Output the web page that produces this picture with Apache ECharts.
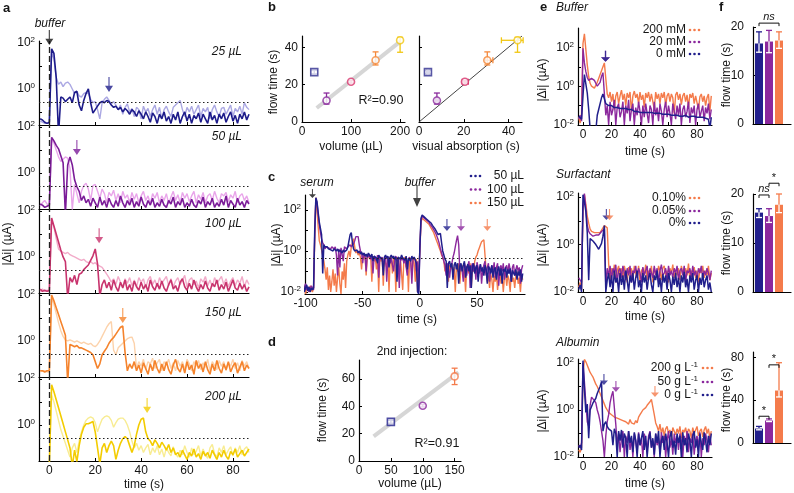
<!DOCTYPE html>
<html>
<head>
<meta charset="utf-8">
<script src="https://cdn.jsdelivr.net/npm/echarts@6.0.0/dist/echarts.min.js"></script>
<style>
html,body{margin:0;padding:0;background:#fff;}
#chart{width:794px;height:493px;}
</style>
</head>
<body>
<div id="chart"></div>
<script>
// ================= DATA =================
// Current traces: values are log10(|Δi| / µA), one sample per second.
// ---- Panel a (time starts at -4 s) ----
const aT0 = -4;
const aVolumes = ['25 µL', '50 µL', '100 µL', '150 µL', '200 µL'];
const a25Dark = [-1.3,-1.35,-1.45,-1.5,-1.45,1.75,1.55,0.5,-2.0,-0.35,
 -0.4,-0.55,-0.45,-0.35,-0.6,-0.15,-0.1,-0.7,-0.95,-0.5,
 -0.2,0.0,-0.6,-1.05,-0.9,-0.75,-0.6,-0.55,-0.6,-0.5,
 -0.55,-0.7,-0.8,-0.75,-0.9,-0.8,-1.0,-0.85,-0.95,-1.1,
 -0.9,-1.0,-1.2,-0.95,-1.1,-1.3,-1.0,-1.2,-1.45,-1.05,
 -1.2,-1.5,-1.1,-1.3,-1.0,-1.4,-1.2,-1.5,-1.1,-1.35,
 -1.0,-1.5,-1.2,-1.0,-1.4,-1.1,-1.5,-1.15,-1.3,-1.05,
 -1.45,-1.1,-1.3,-1.5,-1.0,-1.35,-1.15,-1.5,-1.1,-1.3,
 -1.05,-1.45,-1.2,-1.0,-1.4,-1.15,-1.5,-1.1,-1.3,-1.0,
 -1.35,-1.1];
const a25Light = [-1.4,-1.45,-1.5,-1.5,-1.5,1.6,1.3,0.5,0.2,0.3,
 0.1,0.25,0.3,0.2,0.0,-0.2,-0.1,-0.3,-0.35,-0.2,
 -0.15,-0.2,-0.45,-0.6,-0.55,-0.9,-1.3,-0.6,-0.45,-0.35,
 -0.5,-0.65,-0.55,-0.7,-0.9,-0.7,-1.1,-0.8,-0.65,-1.0,
 -0.85,-1.2,-0.8,-0.9,-1.3,-0.75,-1.0,-0.85,-1.2,-0.9,
 -0.7,-1.1,-0.8,-1.3,-0.9,-0.75,-1.0,-1.2,-0.8,-0.7,
 -0.6,-0.5,-0.9,-1.2,-0.8,-1.0,-0.75,-1.1,-0.9,-0.7,
 -1.2,-0.85,-1.0,-0.8,-1.3,-0.9,-0.7,-1.0,-1.2,-0.85,
 -0.8,-1.1,-0.9,-0.7,-1.2,-0.85,-1.0,-0.75,-1.1,-0.6,
 -0.8,-0.9];
const a50Dark = [-1.35,-1.4,-1.5,-1.45,-1.4,1.55,1.4,1.2,1.05,0.75,
 0.45,-1.8,0.35,0.7,0.35,-0.3,-0.6,-0.8,-1.2,-1.0,
 -1.3,-1.15,-1.45,-1.1,-1.3,-1.5,-1.05,-1.4,-1.2,-1.5,
 -1.1,-1.35,-1.5,-1.2,-1.45,-1.0,-1.3,-1.5,-1.2,-1.4,
 -1.1,-1.5,-1.25,-1.45,-1.05,-1.35,-1.5,-1.2,-1.4,-1.1,
 -1.5,-1.3,-1.45,-1.15,-1.4,-1.5,-1.2,-1.35,-1.05,-1.5,
 -1.25,-1.4,-1.1,-1.5,-1.3,-1.45,-1.15,-1.4,-1.5,-1.2,
 -1.35,-1.05,-1.5,-1.25,-1.4,-1.1,-1.5,-1.3,-1.45,-1.15,
 -1.4,-1.0,-1.5,-1.2,-1.35,-1.5,-1.1,-1.4,-1.25,-1.5,
 -1.2,-1.35];
const a50Light = [-1.45,-1.3,-1.2,-1.35,-1.5,1.45,1.3,1.0,0.7,0.5,
 0.6,0.7,0.65,0.2,-1.6,-0.5,-0.9,-1.3,-0.8,-0.55,
 -0.45,-0.7,-1.2,-0.55,-0.5,-0.8,-1.1,-0.7,-0.9,-1.3,
 -0.85,-1.0,-0.75,-1.2,-0.9,-1.3,-0.8,-1.1,-0.95,-1.3,
 -0.85,-1.15,-0.9,-1.3,-1.0,-0.8,-1.2,-1.0,-1.35,-0.9,
 -1.1,-0.85,-1.3,-1.0,-1.2,-0.9,-1.35,-1.05,-0.8,-1.2,
 -0.95,-1.3,-0.85,-1.1,-0.9,-1.25,-1.0,-0.8,-1.3,-0.95,
 -1.15,-0.85,-1.3,-1.0,-0.9,-1.2,-0.8,-1.1,-1.3,-0.9,
 -1.0,-0.85,-1.25,-0.95,-1.1,-0.8,-1.3,-1.0,-0.9,-1.2,
 -1.0,-1.3];
const a100Dark = [-1.4,-1.5,-1.45,-1.5,-1.45,1.7,1.35,1.0,0.65,0.3,
 0.0,-0.2,-1.8,-0.9,-1.1,-0.8,-1.2,-0.75,-0.7,-0.55,
 -0.45,-0.35,-0.15,0.05,0.35,-0.3,-1.7,-1.2,-1.0,-1.35,
 -1.1,-1.45,-1.0,-1.3,-1.5,-1.1,-1.35,-1.0,-1.45,-1.2,
 -1.5,-1.05,-1.3,-1.45,-1.1,-1.4,-1.2,-1.5,-1.0,-1.3,
 -1.45,-1.15,-1.4,-1.05,-1.35,-1.5,-1.2,-1.0,-1.4,-1.25,
 -1.5,-1.1,-0.95,-1.3,-1.45,-1.15,-1.4,-1.0,-1.3,-1.5,
 -1.2,-1.4,-1.05,-1.35,-1.5,-1.15,-1.3,-1.0,-1.45,-1.2,
 -1.4,-1.1,-1.5,-1.25,-1.0,-1.35,-1.45,-1.15,-1.4,-1.2,
 -1.5,-1.3];
const a100Light = [-1.5,-1.4,-1.5,-1.45,-1.5,1.6,1.3,0.8,0.35,0.25,
 0.2,0.15,0.2,0.1,0.05,0.0,-0.05,-0.1,-0.15,-0.1,
 -0.2,-0.25,-0.2,-0.3,-0.25,-0.35,-0.4,-0.45,-0.6,-0.75,
 -0.9,-1.1,-0.95,-1.2,-0.85,-1.1,-1.3,-0.95,-1.15,-0.9,
 -1.25,-1.0,-1.3,-0.9,-1.1,-0.95,-1.35,-1.0,-0.85,-1.2,
 -1.0,-1.3,-0.9,-1.15,-1.0,-0.85,-1.25,-0.95,-1.3,-1.05,
 -0.9,-1.2,-1.0,-0.8,-1.3,-1.0,-0.9,-1.2,-1.05,-1.35,
 -0.95,-1.1,-0.85,-1.25,-1.0,-1.3,-0.9,-1.15,-1.0,-0.85,
 -1.2,-0.95,-1.3,-1.05,-0.9,-1.25,-1.0,-1.15,-0.85,-1.3,
 -1.0,-1.2];
const a150Dark = [-1.3,-1.3,-1.35,-1.3,-1.3,2.0,1.75,1.45,1.15,0.85,
 0.55,0.25,-1.8,-0.15,-0.2,-0.25,-0.2,-0.3,-0.3,-0.35,
 -0.4,-0.45,-0.5,-0.6,-0.9,-1.2,-1.0,-0.6,-0.45,-0.3,
 -0.1,0.05,0.15,0.3,0.45,0.6,0.65,-0.5,-1.3,-1.0,
 -1.2,-0.9,-1.3,-1.05,-1.4,-0.95,-1.2,-1.45,-1.0,-1.3,
 -0.85,-1.2,-1.4,-1.0,-1.3,-0.9,-1.25,-1.45,-1.05,-0.8,
 -1.2,-1.35,-1.0,-1.4,-0.9,-1.25,-1.05,-1.45,-0.85,-1.2,
 -1.0,-1.35,-0.9,-1.25,-1.45,-1.0,-1.3,-0.85,-1.2,-1.4,
 -1.0,-1.25,-0.9,-1.35,-1.1,-0.95,-1.4,-1.15,-0.9,-1.3,
 -1.05,-1.2];
const a150Light = [-1.35,-1.3,-1.3,-1.35,-1.35,1.9,1.6,1.2,0.8,0.45,
 0.2,0.05,0.0,0.05,0.0,-0.05,0.0,-0.05,-0.1,-0.05,
 -0.1,-0.15,-0.1,-0.2,-0.25,-0.15,0.0,0.2,0.4,0.6,
 0.75,0.85,-0.4,-0.6,-0.3,-0.2,-0.1,0.0,0.1,0.15,
 0.17,-0.1,-1.2,-0.9,-1.1,-0.8,-1.25,-0.9,-1.0,-0.75,
 -1.2,-0.95,-0.8,-1.3,-0.9,-1.05,-0.8,-1.2,-0.95,-1.3,
 -0.85,-1.1,-0.9,-1.25,-0.8,-1.0,-1.3,-0.9,-1.1,-0.85,
 -1.25,-0.95,-1.15,-0.8,-1.3,-0.9,-1.05,-1.25,-0.85,-1.1,
 -0.9,-1.3,-0.95,-1.1,-0.8,-1.2,-0.95,-1.3,-0.85,-1.1,
 -0.9,-1.2];
const a200Dark = [-1.7,-1.7,-1.7,-1.7,-1.7,1.75,1.45,1.1,0.75,0.4,
 0.05,-0.3,-0.65,-1.0,-1.8,-1.1,-1.6,-0.9,-0.4,-0.1,
 0.05,0.05,0.1,0.15,-0.3,-1.0,-1.7,-1.0,-0.8,-1.2,
 -0.9,-0.7,-0.9,-1.5,-1.1,-0.8,-0.6,-0.5,-0.6,-0.9,
 -1.2,-0.9,-0.4,0.0,0.25,0.3,-0.3,-0.6,-0.7,-0.9,
 -0.65,-0.8,-1.0,-0.75,-0.9,-1.1,-0.85,-1.2,-1.0,-1.3,
 -1.2,-1.4,-1.1,-1.3,-1.5,-1.2,-1.35,-1.05,-1.4,-1.25,
 -1.5,-1.15,-1.35,-1.2,-1.45,-1.1,-1.3,-1.5,-1.2,-1.4,
 -1.1,-1.35,-1.5,-1.15,-1.3,-1.05,-1.4,-1.25,-1.1,-1.35,
 -1.2,-1.05];
const a200Light = [-1.7,-1.7,-1.7,-1.7,-1.7,1.3,1.0,0.6,0.2,-0.2,
 -0.5,-0.8,-1.1,-1.4,-1.0,-0.8,-1.2,-0.7,-0.3,0.0,
 0.2,0.3,0.35,0.3,0.1,-0.3,0.0,0.25,0.35,0.4,
 0.35,0.2,-0.1,0.1,0.25,0.3,0.3,0.2,0.0,-0.3,
 -0.7,-1.0,-0.8,-1.1,-0.9,-1.2,-1.0,-0.85,-1.3,-1.0,
 -1.2,-0.9,-1.3,-1.05,-1.4,-1.0,-1.2,-1.35,-0.95,-1.25,
 -1.4,-1.1,-1.3,-0.9,-1.2,-1.4,-1.0,-1.3,-1.15,-0.9,
 -1.35,-1.05,-1.3,-1.45,-1.0,-0.85,-1.25,-1.4,-1.0,-1.2,
 -0.9,-1.3,-1.1,-0.95,-1.35,-1.0,-1.2,-0.9,-1.3,-1.05,
 -0.95,-1.2];
const aArrowT = [26, 12, 21.7, 32, 42.6];
const aArrowTip = [-0.13, 0.78, 0.6, 0.78, 0.52];
const aThreshold = -0.6;

// ---- Panel b ----
const bVolume = [25, 50, 100, 150, 200];
const bFlow = [26.7, 11.5, 21.5, 33, 43.7];
const bFlowLo = [25.8, 9.6, 20.8, 30.5, 37.3];
const bFlowHi = [27.6, 15.5, 22.2, 37.5, 45.3];
const bVisual = [4, 8, 20.5, 30.5, 44];
const bVisualLo = [3.4, 7.4, 19.3, 29.6, 36.8];
const bVisualHi = [4.6, 8.6, 22, 33, 46.5];
const bFitX = [30, 200], bFitY = [7.5, 43];
const bDiagX = [0, 46], bDiagY = [0, 46];

// ---- Panel c (time starts at -104 s) ----
const cT0 = -104;
const c50 = [-1.7,-1.9,-1.6,-2.0,-1.8,-1.65,-1.95,-1.75,-2.0,-1.8,
 -1.9,-1.8,1.0,2.6,2.4,1.9,1.4,1.1,0.8,-1.1,
 0.3,0.2,0.15,0.2,0.1,0.15,0.05,0.1,0.0,0.1,
 0.05,0.0,0.1,-0.05,0.05,0.0,-0.1,0.05,-0.05,0.0,
 0.05,0.2,0.5,0.8,0.9,0.4,0.1,0.0,-0.05,0.05,
 -0.1,0.0,-0.15,-0.05,-0.2,-0.1,-0.25,-0.15,-0.3,-0.1,
 -0.2,-0.3,-0.15,-0.5,-0.25,-0.2,-0.35,-0.6,-0.2,-0.3,
 -0.25,-0.4,-1.2,-0.3,-0.2,-0.35,-0.25,-0.8,-0.3,-0.2,
 -0.35,-0.25,-0.4,-0.3,-1.5,-0.3,-0.25,-0.4,-0.2,-0.35,
 -0.3,-0.45,-0.25,-0.9,-0.35,-0.3,-0.5,-0.25,-0.4,-0.3,
 -0.35,-0.6,-2.0,-2.1,0.2,1.6,1.75,1.7,1.65,1.6,
 1.55,1.5,1.45,1.4,1.35,1.25,1.2,1.1,1.0,0.9,
 0.8,0.75,0.85,0.4,0.0,-0.2,-0.4,-0.5,-1.8,-0.6,
 -0.5,-0.8,-0.6,-1.4,-0.7,-0.55,-0.9,-0.6,-1.6,-0.75,
 -0.6,-1.0,-0.7,-0.5,-1.3,-0.8,-0.65,-1.0,-0.7,-1.8,
 -0.75,-0.6,-1.1,-0.8,-0.7,-1.5,-0.9,-0.65,-1.0,-0.8,
 -1.2,-0.7,-0.9,-1.6,-0.75,-0.85,-1.1,-0.7,-1.3,-0.9,
 -0.8,-1.4,-0.95,-0.75,-1.2,-0.85,-1.6,-0.9,-1.0,-0.8,
 -1.3,-0.9,-1.1,-0.85,-1.5,-0.95,-1.0,-1.2,-0.9,-1.4,
 -1.0,-1.2,-0.9,-1.5,-1.1];
const c100 = [-1.9,-1.7,-2.0,-1.8,-1.6,-1.9,-1.75,-2.0,-1.85,-1.7,
 -1.8,-1.9,0.8,2.55,2.35,1.8,1.3,0.9,0.6,0.4,
 0.3,0.1,0.2,0.25,0.15,0.2,0.1,0.2,0.15,0.1,
 0.2,-0.2,-1.2,0.1,-0.8,0.15,0.1,-0.5,0.2,0.15,
 0.1,0.2,0.15,0.3,0.2,0.25,0.35,0.5,0.7,0.75,
 0.7,0.3,0.0,-0.1,-0.6,-0.1,-0.2,-1.0,-0.15,-0.3,
 -0.2,-0.4,-0.3,-1.1,-0.25,-0.35,-0.5,-0.2,-1.3,-0.3,
 -0.4,-0.3,-0.8,-0.35,-0.25,-1.5,-0.4,-0.3,-0.6,-0.35,
 -0.3,-1.0,-0.4,-0.25,-0.5,-0.35,-1.8,-0.3,-0.45,-0.3,
 -0.6,-0.35,-0.3,-1.2,-0.4,-0.3,-0.5,-1.6,-0.35,-0.3,
 -0.4,-1.0,-0.5,-2.0,0.1,1.5,1.7,1.65,1.6,1.55,
 1.5,1.45,1.4,1.3,1.25,1.15,1.05,0.95,0.85,0.7,
 0.55,0.35,0.1,-0.1,-0.3,-0.5,-0.7,-1.2,-0.6,-0.9,
 -1.3,-0.8,-0.6,-0.3,-0.1,0.2,0.5,0.75,0.3,-1.0,
 -0.7,-0.9,-1.5,-0.6,-0.8,-1.2,-0.7,-0.5,-1.8,-0.8,
 -0.6,-1.0,-0.7,-1.4,-0.55,-0.8,-1.1,-0.65,-1.6,-0.9,
 -0.7,-0.5,-1.2,-0.8,-0.6,-1.5,-0.9,-0.7,-1.0,-0.55,
 -1.3,-0.8,-0.6,-1.7,-0.9,-0.7,-1.0,-0.6,-1.4,-0.8,
 -0.7,-1.1,-0.6,-0.9,-1.5,-0.8,-0.65,-1.2,-0.9,-0.7,
 -1.0,-0.8,-1.6,-0.9,-0.7];
const c150 = [-1.8,-2.0,-1.9,-1.7,-2.1,-1.8,-1.9,-2.0,-1.7,-1.9,
 -2.0,-1.8,0.5,2.6,2.0,1.2,0.5,0.3,0.05,-0.2,
 -0.5,-0.9,-1.4,-0.8,-1.9,-1.2,-2.0,-1.5,-0.9,-1.7,
 -1.1,-2.0,-1.3,-0.8,-1.6,-2.1,-1.0,-1.4,-0.6,-1.8,
 -0.5,-0.2,0.0,-0.3,0.2,0.4,0.6,0.2,-0.1,0.0,
 -0.2,-0.1,-0.3,-0.9,-0.2,-0.4,-0.15,-1.2,-0.3,-0.2,
 -0.4,-0.3,-1.5,-0.25,-0.5,-0.3,-0.9,-0.35,-2.0,-0.3,
 -0.5,-0.3,-1.7,-0.4,-0.35,-0.8,-0.3,-2.0,-0.4,-0.3,
 -1.1,-0.35,-0.5,-2.0,-0.3,-0.4,-1.4,-0.35,-0.3,-1.9,
 -0.4,-0.3,-0.8,-0.45,-2.0,-0.35,-0.5,-1.2,-0.3,-0.6,
 -1.5,-0.4,-2.0,-1.0,0.0,1.4,1.6,1.55,1.5,1.45,
 1.4,1.35,1.3,1.2,1.1,1.0,0.9,0.75,0.6,0.45,
 0.3,0.15,0.0,-0.2,-0.3,-0.5,-1.0,-0.6,-0.8,-1.5,
 -0.7,-0.9,-0.6,-1.2,-0.8,-2.0,-0.7,-1.0,-0.6,-1.6,
 -0.8,-0.7,-1.3,-0.9,-2.0,-0.75,-0.9,-1.1,-0.6,-1.8,
 -0.8,-1.0,-0.5,-0.3,-0.2,0.0,0.15,0.3,0.45,0.5,
 0.55,-0.2,-1.0,-1.5,-1.2,-1.8,-1.1,-1.4,-2.0,-1.2,
 -1.5,-1.1,-1.9,-1.3,-1.0,-1.6,-1.2,-2.0,-1.3,-1.1,
 -1.7,-1.2,-1.4,-2.0,-1.1,-1.5,-1.3,-1.8,-1.2,-1.0,
 -1.6,-1.3,-2.0,-1.2,-1.4];
const cLegend = ['50 µL', '100 µL', '150 µL'];
const cArrowT = [23.7, 36, 59];
const cArrowTip = [0.97, 0.97, 0.97];
const cSerumArrow = [-94, 2.58], cBufferArrow = [-2.5, 2.14];
const cThreshold = -0.35;

// ---- Panel d ----
const dVolume = [50, 100, 150];
const dFlow = [28.7, 40.5, 62];
const dFlowLo = [27.6, 39.6, 56];
const dFlowHi = [29.8, 41.4, 68];
const dFitX = [23, 156], dFitY = [18, 65];

// ---- Panel e (time starts at -3 s) ----
const eT0 = -3;
const eBuffer200 = [-1.6,-1.9,-1.4,2.2,2.7,1.9,1.1,0.5,0.15,0.0,
 -0.05,-0.1,0.0,0.2,0.4,0.6,0.8,1.0,1.2,0.4,
 -0.4,-0.6,-0.3,-0.8,-0.4,-1.2,-0.5,-0.3,-0.9,-0.5,
 -0.2,-0.7,-0.4,-1.0,-0.35,-0.6,-0.3,-1.3,-0.5,-0.25,
 -0.6,-0.4,-0.9,-0.3,-0.7,-0.45,-1.1,-0.35,-0.6,-0.3,
 -0.8,-0.4,-0.5,-1.2,-0.3,-0.65,-0.4,-0.9,-0.35,-0.6,
 -0.3,-1.0,-0.5,-0.35,-0.8,-0.4,-0.6,-1.4,-0.45,-0.3,
 -0.7,-0.4,-0.95,-0.5,-0.35,-0.8,-0.45,-1.1,-0.4,-0.6,
 -0.35,-0.9,-0.5,-0.4,-1.2,-0.55,-0.4,-0.8,-0.5,-1.0,
 -0.6,-0.4,-1.3,-0.5];
const eBuffer20 = [-1.7,-1.5,-1.8,1.95,1.2,0.75,0.45,0.3,0.35,0.4,
 0.4,0.3,0.15,0.0,-0.05,0.2,0.5,0.7,0.8,-1.5,
 -1.0,-2.0,-0.8,-1.5,-1.2,-0.7,-2.0,-1.1,-0.9,-1.6,
 -1.3,-0.8,-2.0,-1.0,-1.4,-0.7,-1.8,-1.2,-0.9,-2.0,
 -1.1,-1.5,-0.8,-1.3,-2.0,-1.0,-1.6,-0.9,-1.4,-1.9,
 -1.0,-1.2,-2.0,-0.8,-1.5,-1.1,-1.8,-0.9,-1.3,-2.0,
 -1.2,-0.8,-1.6,-1.0,-1.4,-2.0,-0.9,-1.3,-1.7,-1.0,
 -1.5,-0.9,-2.0,-1.2,-1.0,-1.6,-1.3,-0.8,-1.9,-1.1,
 -1.4,-1.0,-2.0,-1.2,-0.9,-1.6,-1.3,-1.0,-1.8,-1.1,
 -1.4,-0.9,-1.7,-1.2];
const eBuffer0 = [-1.55,-1.6,-1.7,-0.5,0.6,0.5,-0.35,-1.2,-2.2,-2.3,
 -2.3,-2.2,-2.3,-1.5,-1.2,-0.9,-0.6,-0.4,-0.3,-0.9,
 -1.0,-1.0,-1.05,-1.0,-1.05,-1.1,-1.05,-1.1,-1.1,-1.15,
 -1.1,-1.15,-1.2,-1.15,-1.2,-1.2,-1.25,-1.2,-1.25,-1.3,
 -1.25,-1.3,-1.3,-1.35,-1.3,-1.35,-1.3,-1.35,-1.4,-1.35,
 -1.4,-1.35,-1.4,-1.4,-1.45,-1.4,-1.45,-1.4,-1.45,-1.45,
 -1.5,-1.45,-1.5,-1.45,-1.5,-1.5,-1.45,-1.5,-1.55,-1.5,
 -1.5,-1.55,-1.5,-1.55,-1.55,-1.5,-1.55,-1.6,-1.55,-1.55,
 -1.6,-1.55,-1.6,-1.6,-1.55,-1.6,-1.65,-1.6,-1.6,-1.65,
 -1.6,-1.7,-2.2,-1.6];
const eSurf010 = [-1.8,-1.6,-1.9,1.6,2.1,1.7,1.2,0.9,0.65,0.55,
 0.5,0.5,0.45,0.5,0.45,0.5,0.55,0.7,0.8,0.75,
 0.7,-0.8,-1.5,-1.0,-1.3,-0.85,-1.6,-1.1,-0.9,-1.4,
 -1.0,-1.5,-0.9,-1.2,-1.6,-0.95,-1.3,-1.0,-1.5,-0.9,
 -1.2,-1.4,-0.9,-1.6,-1.1,-1.0,-1.3,-0.85,-1.5,-1.1,
 -1.3,-0.9,-1.6,-1.0,-1.2,-1.4,-0.9,-1.1,-1.5,-1.0,
 -0.9,-1.3,-1.1,-1.6,-1.0,-1.2,-0.85,-1.4,-1.1,-1.3,
 -1.0,-1.5,-0.9,-1.2,-1.4,-1.0,-1.3,-0.8,-1.5,-1.1,
 -1.2,-0.95,-1.4,-1.1,-1.6,-1.0,-1.2,-0.9,-1.4,-1.1,
 -1.3,-0.9,-1.5,-1.2];
const eSurf005 = [-1.4,-1.4,-1.6,1.5,2.15,1.5,0.8,0.55,0.45,0.4,
 0.35,0.35,0.4,0.35,0.4,0.45,0.55,0.6,0.65,-1.8,
 -1.0,-1.3,-0.9,-1.5,-1.0,-1.2,-0.85,-1.6,-1.1,-1.0,
 -1.4,-0.9,-1.2,-1.5,-1.0,-1.3,-0.9,-1.6,-1.1,-1.2,
 -0.9,-1.4,-1.0,-1.2,-1.6,-0.95,-1.3,-1.1,-0.9,-1.5,
 -1.0,-1.2,-1.4,-0.9,-1.3,-1.0,-1.6,-1.1,-0.85,-1.3,
 -1.2,-1.0,-1.5,-0.9,-1.3,-1.1,-1.4,-1.0,-1.2,-0.9,
 -1.5,-1.1,-1.0,-1.3,-0.9,-1.6,-1.1,-1.2,-1.0,-1.4,
 -0.9,-1.3,-1.1,-1.5,-1.0,-1.2,-0.9,-1.4,-1.1,-1.3,
 -1.0,-1.2,-1.5,-1.1];
const eSurf0 = [-1.9,-1.7,-2.0,2.1,1.8,1.4,0.5,-1.5,0.25,0.2,
 0.15,0.1,0.0,-0.1,-0.2,-0.25,0.05,0.35,0.8,-2.0,
 -1.5,-1.2,-1.8,-1.3,-2.0,-1.1,-1.6,-1.4,-2.0,-1.2,
 -1.7,-1.3,-1.9,-1.1,-1.5,-2.0,-1.3,-1.6,-1.2,-1.9,
 -1.4,-1.1,-1.8,-1.5,-2.0,-1.2,-1.6,-1.3,-1.9,-1.4,
 -1.2,-1.7,-2.0,-1.3,-1.5,-1.1,-1.8,-1.4,-2.0,-1.25,
 -1.6,-1.3,-1.9,-1.2,-1.5,-2.0,-1.35,-1.7,-1.2,-1.8,
 -1.4,-2.0,-1.3,-1.6,-1.15,-1.8,-1.45,-2.0,-1.3,-1.6,
 -1.2,-1.9,-1.5,-1.3,-2.0,-1.4,-1.7,-1.2,-1.8,-1.5,
 -1.3,-1.9,-1.6,-2.0];
const eAlb200 = [-1.7,-1.8,-1.6,1.5,2.15,2.05,1.9,1.75,1.6,1.5,
 1.4,1.25,1.1,1.0,0.85,0.7,0.55,0.4,0.25,0.1,
 0.0,-0.1,-0.15,-0.2,-0.25,-0.3,-0.25,-0.35,-0.3,-0.4,
 -0.35,-0.45,-0.4,-0.5,-0.45,-0.6,-0.4,-0.55,-0.5,-0.6,
 -0.45,-0.55,-0.3,-0.2,-0.1,0.0,0.05,0.1,0.2,0.25,
 0.35,0.45,0.5,-0.2,-0.55,-0.7,-0.9,-0.6,-1.0,-0.75,
 -1.1,-0.8,-0.7,-1.0,-0.85,-1.2,-0.75,-0.9,-1.05,-0.8,
 -1.0,-0.7,-1.2,-0.85,-0.95,-0.75,-1.1,-0.8,-0.9,-1.2,
 -0.75,-1.0,-0.85,-0.7,-1.1,-0.9,-0.8,-1.15,-0.85,-0.7,
 -1.0,-0.8,-1.2,-0.9];
const eAlb50 = [-1.5,-1.6,-1.4,2.0,1.2,0.3,-0.5,-0.7,0.2,0.55,
 0.5,0.4,0.3,0.0,-0.2,-0.5,-0.9,-1.3,-2.0,-1.1,
 -0.5,-0.2,0.3,0.6,0.8,0.85,-0.6,-1.5,-1.0,-1.8,
 -1.2,-0.9,-2.0,-1.1,-1.4,-0.9,-1.7,-1.2,-2.0,-1.0,
 -1.3,-1.8,-0.95,-1.5,-1.2,-2.0,-1.0,-1.4,-1.7,-1.1,
 -0.9,-1.6,-1.3,-2.0,-1.0,-1.5,-1.2,-1.8,-0.95,-1.4,
 -1.1,-2.0,-1.3,-0.9,-1.6,-1.2,-1.9,-1.0,-1.4,-1.1,
 -1.7,-1.0,-1.3,-2.0,-1.1,-1.5,-0.9,-1.8,-1.2,-1.4,
 -1.0,-1.9,-1.3,-1.1,-1.6,-0.95,-2.0,-1.2,-1.5,-1.0,
 -1.3,-1.8,-1.1,-1.5];
const eAlb0 = [-1.6,-1.5,-1.7,2.1,0.9,-0.1,0.25,-1.2,0.0,0.15,
 0.3,0.4,0.5,0.7,0.85,1.0,1.2,-0.9,-0.6,-0.5,
 -0.7,-0.8,-0.75,-0.9,-1.5,-0.8,-1.0,-2.0,-0.9,-1.3,
 -0.85,-1.6,-1.0,-1.2,-2.0,-0.9,-1.4,-1.1,-1.8,-0.95,
 -1.3,-2.0,-1.0,-1.5,-1.2,-0.9,-1.7,-1.1,-2.0,-1.3,
 -0.95,-1.6,-1.2,-1.9,-1.0,-1.4,-0.9,-2.0,-1.3,-1.1,
 -1.7,-1.0,-1.4,-2.0,-1.15,-0.9,-1.6,-1.3,-1.9,-1.0,
 -1.4,-1.1,-2.0,-0.95,-1.5,-1.2,-1.8,-1.0,-1.3,-2.0,
 -1.1,-0.9,-1.6,-1.25,-2.0,-1.0,-1.4,-1.7,-0.95,-1.3,
 -1.8,-1.1,-1.5,-1.0];
const eBufferLegend = ['200 mM', '20 mM', '0 mM'];
const eSurfLegend = ['0.10%', '0.05%', '0%'];
const eAlbLegend = ['200 g L', '50 g L', '0 g L'];
const eBufferArrows = [[15.8, 1.26], [15.8, 1.26]];
const eSurfArrows = [[16.4, 1.03], [18.6, 1.03]];
const eAlbArrows = [[14.7, 1.06], [23.1, 0.77], [50.5, 0.55]];

// ---- Panel f (bars: 0 / mid / high condition) ----
const fBuffer = [16.6, 17.0, 17.2], fBufferLo = [14.8, 14.7, 15.6], fBufferHi = [19.0, 19.3, 19.0];
const fSurf = [16.2, 15.5, 17.8], fSurfLo = [15.2, 14.2, 16.2], fSurfHi = [17.0, 17.0, 20.0];
const fAlb = [13.5, 21.0, 49.0], fAlbLo = [12.3, 20.0, 43.0], fAlbHi = [15.5, 22.5, 75.0];
const fBracketsBuffer = [[1, 3, 20.8]], fBracketsBufferText = ['ns'];
const fBracketsSurf = [[1, 2, 19.8], [2, 3, 22.2]], fBracketsSurfText = ['ns', '*'];
const fBracketsAlb = [[1, 2, 25], [2, 3, 73]], fBracketsAlbText = ['*', '*'];

// ================= STYLE =================
const FONT = '"Liberation Sans", Arial, Helvetica, sans-serif';
const TXT = '#151515';
const NAVY = '#211f8c', PURPLE = '#8b289d', ORANGE = '#f47b4b';
const aDarkColors = ['#1d1b8a', '#7b1c98', '#c8336d', '#f5832c', '#f3cc00'];
const aLightColors = ['#aba8e3', '#e9a5ea', '#f2abc9', '#fcd2ab', '#f8ec92'];
const bColors = ['#2e2d8f', '#8a2a9c', '#d8346d', '#f5893b', '#f1c712'];

const grids = [], xAxes = [], yAxes = [], series = [], graphic = [];

function makeAxis(o) {
  const a = {
    type: 'value', gridIndex: o.g, min: o.min, max: o.max,
    axisLine: { show: true, onZero: false, lineStyle: { color: '#000', width: 1.2 } },
    axisTick: { show: !!(o.ticks && o.ticks.length), inside: true, length: 3, customValues: o.ticks || [], lineStyle: { color: '#000', width: 1 } },
    axisLabel: { show: !!(o.labels && o.labels.length), customValues: o.labels || [], color: TXT, fontSize: 12, fontFamily: FONT, margin: o.margin || 4 },
    splitLine: { show: false }
  };
  if (o.log) {
    a.axisLabel.formatter = function (v) { const e = Math.round(v); return '{b|10}{s|' + (e < 0 ? '-' : '') + Math.abs(e) + '}'; };
    a.axisLabel.rich = {
      b: { fontSize: 12, fontFamily: FONT, color: TXT, lineHeight: 14 },
      s: { fontSize: 8, fontFamily: FONT, color: TXT, lineHeight: 8, padding: [0, 0, 6, 0] }
    };
  }
  return a;
}
function addGrid(box, xo, yo) {
  const g = grids.length;
  grids.push(Object.assign({ show: false, containLabel: false }, box));
  xo.g = g; yo.g = g;
  xAxes.push(makeAxis(xo)); yAxes.push(makeAxis(yo));
  return g;
}
function trace(g, t0, vals, color, width, z) {
  return { type: 'line', xAxisIndex: g, yAxisIndex: g, data: vals.map((v, i) => [t0 + i, v]),
    showSymbol: false, symbol: 'none', lineStyle: { color: color, width: width }, itemStyle: { color: color },
    z: z, silent: true, animation: false, clip: true };
}
const ARROW = 'path://M4.3,0 L5.7,0 L5.7,10 L10,10 L5,17 L0,10 L4.3,10 Z';
function arrows(g, pts, colors, w, h) {
  return { type: 'scatter', xAxisIndex: g, yAxisIndex: g, clip: false, symbol: ARROW, symbolSize: [w, h],
    symbolOffset: [0, '-50%'], data: pts.map((p, i) => ({ value: p, itemStyle: { color: colors[i] } })),
    z: 20, silent: true, animation: false };
}
function line2(g, xs, ys, color, width, z) {
  return { type: 'line', xAxisIndex: g, yAxisIndex: g, data: xs.map((x, i) => [x, ys[i]]), showSymbol: false, symbol: 'none',
    lineStyle: { color: color, width: width }, z: z, silent: true, animation: false };
}
function errBars(g, xs, ys, xl, xh, yl, yh, colors) {
  return { type: 'custom', xAxisIndex: g, yAxisIndex: g, z: 4, silent: true, animation: false,
    data: xs.map((x, i) => [x, ys[i], xl ? xl[i] : x, xh ? xh[i] : x, yl ? yl[i] : ys[i], yh ? yh[i] : ys[i], i]),
    renderItem: function (p, api) {
      const x = api.value(0), y = api.value(1), c = colors[api.value(6)], ch = [], cap = 3;
      const L = (x1, y1, x2, y2) => ch.push({ type: 'line', shape: { x1, y1, x2, y2 }, style: { stroke: c, lineWidth: 1.3 } });
      const ylo = api.value(4), yhi = api.value(5), xlo = api.value(2), xhi = api.value(3);
      if (yhi > ylo) { const a = api.coord([x, ylo]), b = api.coord([x, yhi]); L(a[0], a[1], b[0], b[1]); L(a[0] - cap, a[1], a[0] + cap, a[1]); L(b[0] - cap, b[1], b[0] + cap, b[1]); }
      if (xhi > xlo) { const a = api.coord([xlo, y]), b = api.coord([xhi, y]); L(a[0], a[1], b[0], b[1]); L(a[0], a[1] - cap, a[0], a[1] + cap); L(b[0], b[1] - cap, b[0], b[1] + cap); }
      return { type: 'group', children: ch };
    } };
}
function markers(g, xs, ys, colors, size) {
  return { type: 'scatter', xAxisIndex: g, yAxisIndex: g, z: 5, silent: true, animation: false, symbolSize: size,
    data: xs.map((x, i) => ({ value: [x, ys[i]], symbol: i === 0 ? 'rect' : 'circle',
      itemStyle: { color: '#fff', borderColor: colors[i], borderWidth: 1.6 } })) };
}
function bars(g, means, lo, hi, colors) {
  series.push({ type: 'bar', xAxisIndex: g, yAxisIndex: g, barWidth: 8, z: 2, silent: true, animation: false,
    data: means.map((m, i) => ({ value: [i + 1, m], itemStyle: { color: colors[i] } })) });
  series.push({ type: 'custom', xAxisIndex: g, yAxisIndex: g, z: 3, silent: true, animation: false,
    data: means.map((m, i) => [i + 1, m, lo[i], hi[i], i]),
    renderItem: function (p, api) {
      const x = api.value(0), c = colors[api.value(4)], cap = 3;
      const pm = api.coord([x, api.value(1)]), pl = api.coord([x, api.value(2)]), ph = api.coord([x, api.value(3)]);
      const L = (x1, y1, x2, y2, s) => ({ type: 'line', shape: { x1, y1, x2, y2 }, style: { stroke: s, lineWidth: 1.3 } });
      return { type: 'group', children: [
        L(pm[0], pm[1], ph[0], ph[1], c), L(ph[0] - cap, ph[1], ph[0] + cap, ph[1], c),
        L(pm[0], pm[1], pl[0], pl[1], '#fff'), L(pl[0] - cap, pl[1], pl[0] + cap, pl[1], '#fff') ] };
    } });
}
function brackets(g, items, labels) {
  series.push({ type: 'custom', xAxisIndex: g, yAxisIndex: g, z: 6, silent: true, animation: false, clip: false,
    data: items.map((b, i) => [b[0], b[1], b[2], i]),
    renderItem: function (p, api) {
      const a = api.coord([api.value(0), api.value(2)]), b = api.coord([api.value(1), api.value(2)]);
      const lab = labels[api.value(3)];
      return { type: 'group', children: [
        { type: 'polyline', shape: { points: [[a[0], a[1] + 3], [a[0], a[1]], [b[0], b[1]], [b[0], b[1] + 3]] }, style: { stroke: '#111', lineWidth: 1, fill: null } },
        { type: 'text', x: (a[0] + b[0]) / 2, y: a[1] - (lab === '*' ? 0 : 1), style: { text: lab, fill: TXT,
          font: (lab === 'ns' ? 'italic ' : '') + '11px ' + FONT, align: 'center', verticalAlign: 'bottom' } } ] };
    } });
}
function txt(text, x, y, o) {
  o = o || {};
  graphic.push({ type: 'text', x: x, y: y, rotation: o.rot || 0, silent: true, z: 50,
    style: { text: text, fill: TXT, font: (o.italic ? 'italic ' : '') + (o.bold ? 'bold ' : '') + (o.size || 12) + 'px ' + FONT,
      align: o.align || 'center', verticalAlign: o.va || 'middle', textAlign: o.align || 'center', textVerticalAlign: o.va || 'middle', rich: o.rich } });
}
function dots(x, y, color) {
  for (let k = 0; k < 3; k++) graphic.push({ type: 'circle', silent: true, z: 50, shape: { cx: x + k * 4.5, cy: y, r: 1.3 }, style: { fill: color } });
}

// ================= PANEL a =================
const aDark = [a25Dark, a50Dark, a100Dark, a150Dark, a200Dark];
const aLight = [a25Light, a50Light, a100Light, a150Light, a200Light];
const aLabelY = [52, 137, 224, 313, 397];
for (let i = 0; i < 5; i++) {
  const g = addGrid({ left: 39, top: 41 + 84 * i, width: 210, height: 84 },
    { min: -4.5, max: 87, ticks: [0, 20, 40, 60, 80], labels: i === 4 ? [0, 20, 40, 60, 80] : [] },
    { min: -1.57, max: 2.09, ticks: [-1, 0, 1, 2], labels: [0, 2], log: true });
  series.push(trace(g, aT0, aLight[i], aLightColors[i], 1.4, 2));
  const d = trace(g, aT0, aDark[i], aDarkColors[i], 1.6, 3);
  d.markLine = { silent: true, symbol: ['none', 'none'], label: { show: false }, animation: false,
    data: [ { xAxis: 0, lineStyle: { color: '#222', type: [6, 3], width: 1.3 } },
            { yAxis: aThreshold, lineStyle: { color: '#222', type: [1.5, 2.5], width: 1 } } ] };
  series.push(d);
  series.push(arrows(g, [[aArrowT[i], aArrowTip[i]]], [aDarkColors[i]], 8, 15));
  if (i === 0) series.push(arrows(g, [[0, 1.92]], ['#111'], 8, 15));
  txt(aVolumes[i], 242, aLabelY[i], { italic: true, align: 'right' });
}
txt('a', 3, 8, { bold: true, size: 13, align: 'left' });
txt('buffer', 50, 24, { italic: true });
txt('|Δi| (µA)', 8, 244, { rot: Math.PI / 2 });
txt('time (s)', 144, 485);

// ================= PANEL b =================
const gbl = addGrid({ left: 302, top: 36, width: 103, height: 86 },
  { min: 0, max: 210, ticks: [0, 100, 200], labels: [0, 100, 200] },
  { min: 0, max: 46, ticks: [0, 20, 40], labels: [0, 20, 40] });
series.push(line2(gbl, bFitX, bFitY, '#d6d6d6', 4, 1));
series.push(errBars(gbl, bVolume, bFlow, null, null, bFlowLo, bFlowHi, bColors));
series.push(markers(gbl, bVolume, bFlow, bColors, 7));
const gbr = addGrid({ left: 419, top: 36, width: 103, height: 86 },
  { min: 0, max: 46, ticks: [0, 20, 40], labels: [0, 20, 40] },
  { min: 0, max: 46, ticks: [20, 40], labels: [] });
series.push(line2(gbr, bDiagX, bDiagY, '#444', 1, 1));
series.push(errBars(gbr, bVisual, bFlow, bVisualLo, bVisualHi, bFlowLo, bFlowHi, bColors));
series.push(markers(gbr, bVisual, bFlow, bColors, 7));
txt('b', 268, 7, { bold: true, size: 13, align: 'left' });
txt('flow time (s)', 274, 82, { rot: Math.PI / 2 });
txt('volume (µL)', 351, 147);
txt('visual absorption (s)', 466, 147);
txt('R²=0.90', 381, 101, { size: 12.5 });

// ================= PANEL c =================
const gc = addGrid({ left: 305, top: 195, width: 220, height: 99 },
  { min: -100.5, max: 92, ticks: [-100, -50, 0, 50], labels: [-100, -50, 0, 50] },
  { min: -2.1, max: 2.73, ticks: [-2, -1, 0, 1, 2], labels: [-2, 0, 2], log: true });
series.push(trace(gc, cT0, c150, ORANGE, 1.4, 2));
series.push(trace(gc, cT0, c100, PURPLE, 1.4, 3));
const cn = trace(gc, cT0, c50, NAVY, 1.5, 4);
cn.markLine = { silent: true, symbol: ['none', 'none'], label: { show: false }, animation: false,
  data: [{ yAxis: cThreshold, lineStyle: { color: '#222', type: [1.5, 2.5], width: 1 } }] };
series.push(cn);
series.push(arrows(gc, cArrowT.map((t, i) => [t, cArrowTip[i]]), [NAVY, PURPLE, ORANGE], 8, 12));
series.push(arrows(gc, [cSerumArrow], ['#111'], 7, 9));
series.push(arrows(gc, [cBufferArrow], ['#111'], 8, 22));
txt('c', 268, 177, { bold: true, size: 13, align: 'left' });
txt('serum', 317, 183, { italic: true });
txt('buffer', 420, 183, { italic: true });
txt('|Δi| (µA)', 277, 245, { rot: Math.PI / 2 });
txt('time (s)', 417, 320);
[NAVY, PURPLE, ORANGE].forEach((c, i) => { dots(471, 176 + 13.5 * i, c); txt(cLegend[i], 524, 176 + 13.5 * i, { align: 'right' }); });

// ================= PANEL d =================
const gd = addGrid({ left: 359, top: 360, width: 102, height: 101 },
  { min: 0, max: 160, ticks: [0, 50, 100, 150], labels: [0, 50, 100, 150] },
  { min: 0, max: 74, ticks: [0, 20, 40, 60], labels: [0, 20, 40, 60] });
series.push(line2(gd, dFitX, dFitY, '#d6d6d6', 4, 1));
series.push(errBars(gd, dVolume, dFlow, null, null, dFlowLo, dFlowHi, [NAVY, PURPLE, ORANGE]));
series.push(markers(gd, dVolume, dFlow, [NAVY, PURPLE, ORANGE], 7));
txt('d', 268, 342, { bold: true, size: 13, align: 'left' });
txt('2nd injection:', 412, 352);
txt('R²=0.91', 437, 444, { size: 12.5 });
txt('flow time (s)', 323, 410, { rot: Math.PI / 2 });
txt('volume (µL)', 410, 484);

// ================= PANEL e =================
const eBoxes = [{ top: 28, height: 97, max: 3 }, { top: 193, height: 99, max: 2.17 }, { top: 359, height: 98, max: 2.17 }];
const eSets = [[eBuffer200, eBuffer20, eBuffer0], [eSurf010, eSurf005, eSurf0], [eAlb200, eAlb50, eAlb0]];
const eTitles = ['Buffer', 'Surfactant', 'Albumin'];
const eTitleY = [8, 175, 343];
const eLegends = [eBufferLegend, eSurfLegend, eAlbLegend];
const eLegY = [[30, 42, 54], [198, 211, 223], [368, 382, 395]];
const eArrowSets = [eBufferArrows, eSurfArrows, eAlbArrows];
const eArrowColors = [[PURPLE, NAVY], [NAVY, ORANGE], [NAVY, PURPLE, ORANGE]];
for (let k = 0; k < 3; k++) {
  const b = eBoxes[k];
  const g = addGrid({ left: 578, top: b.top, width: 134, height: b.height },
    { min: -3.5, max: 90.5, ticks: [0, 20, 40, 60, 80], labels: [0, 20, 40, 60, 80] },
    { min: -2, max: b.max, ticks: [-2, -1, 0, 1, 2], labels: [-2, 0, 2], log: true });
  series.push(trace(g, eT0, eSets[k][0], ORANGE, 1.4, 2));
  series.push(trace(g, eT0, eSets[k][1], PURPLE, 1.4, 3));
  series.push(trace(g, eT0, eSets[k][2], NAVY, 1.5, 4));
  series.push(arrows(g, eArrowSets[k], eArrowColors[k], k === 0 ? 9 : 8, 11));
  txt(eTitles[k], 556, eTitleY[k], { italic: true, align: 'left' });
  txt('|Δi| (µA)', 543, [80, 245, 411][k], { rot: Math.PI / 2 });
  txt('time (s)', 645, [152, 317, 484][k]);
  const cols = [ORANGE, PURPLE, NAVY];
  for (let r = 0; r < 3; r++) {
    if (k === 2) {
      txt(eLegends[k][r] + '{s|-1}', 698, eLegY[k][r], { align: 'right',
        rich: { s: { fontSize: 8, fontFamily: FONT, fill: TXT, color: TXT, lineHeight: 8, padding: [0, 0, 6, 0] } } });
      dots(703, eLegY[k][r], cols[r]);
    } else {
      txt(eLegends[k][r], 686, eLegY[k][r], { align: 'right' });
      dots(690, eLegY[k][r], cols[r]);
    }
  }
}
txt('e', 540, 7, { bold: true, size: 13, align: 'left' });

// ================= PANEL f =================
const fCols = [NAVY, PURPLE, ORANGE];
const fBoxes = [{ top: 27, height: 97, max: 20, lab: [0, 10, 20] }, { top: 194, height: 98, max: 20, lab: [0, 10, 20] }, { top: 352, height: 91, max: 85, lab: [0, 40, 80] }];
const fSets = [[fBuffer, fBufferLo, fBufferHi, fBracketsBuffer, fBracketsBufferText],
               [fSurf, fSurfLo, fSurfHi, fBracketsSurf, fBracketsSurfText],
               [fAlb, fAlbLo, fAlbHi, fBracketsAlb, fBracketsAlbText]];
for (let k = 0; k < 3; k++) {
  const b = fBoxes[k];
  const g = addGrid({ left: 753, top: b.top, width: 38, height: b.height },
    { min: 0.4, max: 4.2, ticks: [], labels: [] },
    { min: 0, max: b.max, ticks: b.lab, labels: b.lab, margin: 9 });
  bars(g, fSets[k][0], fSets[k][1], fSets[k][2], fCols);
  brackets(g, fSets[k][3], fSets[k][4]);
  txt('flow time (s)', 727, [75, 243, 400][k], { rot: Math.PI / 2 });
}
txt('f', 719, 7, { bold: true, size: 13, align: 'left' });

// ================= RENDER =================
const chart = echarts.init(document.getElementById('chart'), null, { renderer: 'canvas' });
chart.setOption({ animation: false, backgroundColor: '#fff', grid: grids, xAxis: xAxes, yAxis: yAxes, series: series, graphic: graphic });
</script>
</body>
</html>
